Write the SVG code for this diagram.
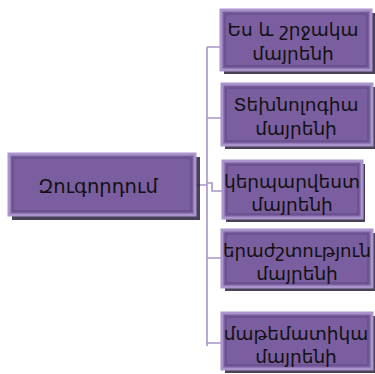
<svg xmlns="http://www.w3.org/2000/svg" width="375" height="374" viewBox="0 0 375 374">
<defs>
<style>
.sh{fill:#2a1f3a;opacity:0.85}
.bx{fill:#7a5e9f;stroke:#a995cc;stroke-width:3}
.in{fill:none;stroke:#5e4780;stroke-width:1}
.t{font-family:"DejaVu Sans","Liberation Serif",serif;fill:#111;text-anchor:middle;font-size:18.5px}
.c{fill:none;stroke:#a895c8;stroke-width:1.6}
</style>
</defs>
<rect width="375" height="374" fill="#fff"/>
<g id="connectors">
<path class="c" d="M196 185 H207 M207 47 V346 M207 47 H221 M207 118 H222 M207 183 H212 V191 H223 M207 258 H222 M207 343 H222"/>
</g>
<g id="root">
<rect class="sh" x="12" y="157" width="188" height="63"/>
<rect class="bx" x="9" y="154" width="186" height="61"/>
<rect class="in" x="13" y="158" width="178" height="53"/>
<text class="t" x="98" y="193" style="font-size:19.5px">Զուգորդում</text>
</g>
<g id="n1">
<rect class="sh" x="224" y="13" width="151" height="61"/>
<rect class="bx" x="221" y="10" width="150" height="60"/>
<rect class="in" x="225" y="14" width="142" height="52"/>
<text class="t" x="293" y="36">Ես և շրջակա</text>
<text class="t" x="293" y="60">մայրենի</text>
</g>
<g id="n2">
<rect class="sh" x="225" y="87" width="150" height="62"/>
<rect class="bx" x="222" y="84" width="150" height="61"/>
<rect class="in" x="226" y="88" width="142" height="53"/>
<text class="t" x="296" y="111">Տեխնոլոգիա</text>
<text class="t" x="296" y="135">մայրենի</text>
</g>
<g id="n3">
<rect class="sh" x="226" y="164" width="139" height="58"/>
<rect class="bx" x="223" y="161" width="139" height="57"/>
<rect class="in" x="227" y="165" width="131" height="49"/>
<text class="t" x="292" y="188">կերպարվեստ</text>
<text class="t" x="292" y="211">մայրենի</text>
</g>
<g id="n4">
<rect class="sh" x="225" y="233" width="150" height="58"/>
<rect class="bx" x="222" y="230" width="150" height="57"/>
<rect class="in" x="226" y="234" width="142" height="49"/>
<text class="t" x="297" y="257" textLength="148" lengthAdjust="spacingAndGlyphs">երաժշտություն</text>
<text class="t" x="297" y="280">մայրենի</text>
</g>
<g id="n5">
<rect class="sh" x="225" y="316" width="150" height="57"/>
<rect class="bx" x="222" y="313" width="150" height="56"/>
<rect class="in" x="226" y="317" width="142" height="48"/>
<text class="t" x="296" y="340">մաթեմատիկա</text>
<text class="t" x="296" y="363">մայրենի</text>
</g>
</svg>
